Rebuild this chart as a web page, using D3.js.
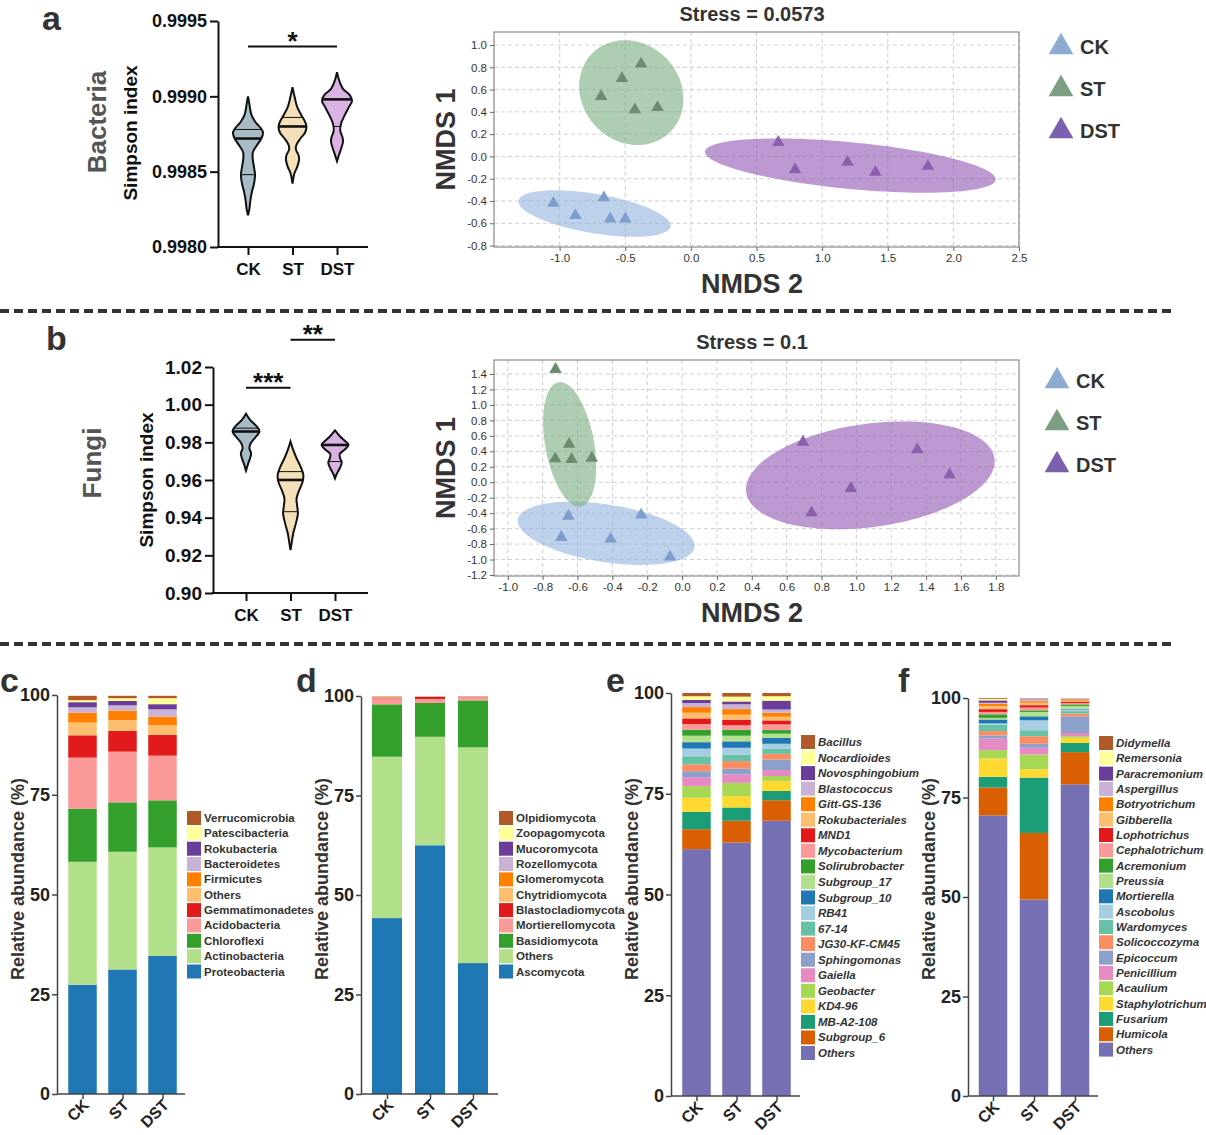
<!DOCTYPE html>
<html>
<head>
<meta charset="utf-8">
<script src="https://cdn.jsdelivr.net/npm/d3@7"></script>
<style>
  body { margin: 0; background: #fff; }
  text { font-family: 'Liberation Sans', Arial, sans-serif; }
</style>
</head>
<body>
<svg id="chart" width="1206" height="1135"></svg>
<script>
const svg = d3.select('#chart')

const groups = ['CK', 'ST', 'DST']

// ---- violin outlines: [Simpson index, relative half width] ----
const bactViolinCK = [[0.99900,0],[0.99895,0.09],[0.99888,0.22],[0.99883,0.49],[0.99879,0.84],[0.99876,1],[0.99872,0.89],[0.99867,0.56],[0.99863,0.33],[0.99859,0.31],[0.99853,0.40],[0.99848,0.47],[0.99842,0.40],[0.99837,0.27],[0.99831,0.16],[0.99825,0.09],[0.99821,0]]
const bactViolinST = [[0.99906,0],[0.99900,0.13],[0.99893,0.31],[0.99887,0.62],[0.99883,0.84],[0.99880,0.93],[0.99876,0.84],[0.99872,0.53],[0.99868,0.27],[0.99865,0.22],[0.99861,0.40],[0.99858,0.44],[0.99853,0.31],[0.99849,0.13],[0.99842,0]]
const bactViolinDST = [[0.99916,0],[0.99911,0.13],[0.99905,0.40],[0.99901,0.84],[0.99897,1],[0.99893,0.80],[0.99887,0.49],[0.99882,0.27],[0.99877,0.22],[0.99873,0.36],[0.99870,0.40],[0.99865,0.27],[0.99861,0.13],[0.99857,0]]
const bactMedian = [0.99872, 0.99880, 0.99898]
const bactQuartiles = [[0.99878, 0.99848], [0.99886], [0.99880]]
const bactTicks = [0.9980, 0.9985, 0.9990, 0.9995]

const fungiViolinCK = [[0.99516,0],[0.99196,0.30],[0.98841,0.80],[0.98575,1],[0.98309,0.75],[0.97954,0.35],[0.97688,0.25],[0.97422,0.38],[0.97156,0.30],[0.96801,0.13],[0.96499,0]]
const fungiViolinST = [[0.98043,0],[0.97599,0.2],[0.97156,0.45],[0.96712,0.75],[0.96269,0.95],[0.95914,0.9],[0.95470,0.65],[0.95026,0.45],[0.94583,0.5],[0.94228,0.55],[0.93696,0.4],[0.93163,0.2],[0.92631,0.08],[0.92276,0]]
const fungiViolinDST = [[0.9863,0],[0.9831,0.38],[0.9804,0.8],[0.97865,1],[0.97635,0.75],[0.97386,0.35],[0.97156,0.38],[0.96925,0.5],[0.96624,0.35],[0.96358,0.15],[0.96091,0]]
const fungiMedian = [0.98575, 0.96002, 0.9786]
const fungiQuartiles = [[0.98752], [0.96445, 0.94317], [0.9698]]
const fungiTicks = [0.90, 0.92, 0.94, 0.96, 0.98, 1.00, 1.02]

const violinColors = ['#a7bcc6', '#f3e0b9', '#dab2e4']

// ---- NMDS points [NMDS 2, NMDS 1] ----
const bactNmdsCK = [[-1.048,-0.42],[-0.88,-0.53],[-0.663,-0.37],[-0.615,-0.56],[-0.50,-0.56]]
const bactNmdsST = [[-0.379,0.83],[-0.525,0.70],[-0.684,0.54],[-0.427,0.42],[-0.254,0.44]]
const bactNmdsDST = [[0.666,0.127],[0.794,-0.118],[1.194,-0.052],[1.406,-0.142],[1.806,-0.088]]
// ellipse: centre x, centre y, semi-axis 1 (dx, dy), semi-axis 2 (dx, dy)
const bactEllipseCK = [-0.734, -0.513, 0.579, -0.119, -0.0352, -0.172]
const bactEllipseST = [-0.454, 0.573, -0.1475, 0.455, 0.369, 0.120]
const bactEllipseDST = [1.215, -0.082, 1.107, -0.127, -0.0236, -0.208]
const bactXTicks = [-1.0, -0.5, 0.0, 0.5, 1.0, 1.5, 2.0, 2.5]
const bactYTicks = [-0.8, -0.6, -0.4, -0.2, 0.0, 0.2, 0.4, 0.6, 0.8, 1.0]

const fungiNmdsCK = [[-0.652,-0.437],[-0.693,-0.713],[-0.41,-0.734],[-0.235,-0.424],[-0.069,-0.967]]
const fungiNmdsST = [[-0.726,1.46],[-0.648,0.494],[-0.728,0.305],[-0.634,0.296],[-0.518,0.313]]
const fungiNmdsDST = [[0.694,0.52],[1.349,0.421],[1.535,0.098],[0.968,-0.079],[0.743,-0.394]]
const fungiEllipseCK = [-0.435, -0.661, 0.506, -0.1876, -0.0365, -0.364]
const fungiEllipseST = [-0.645, 0.49, -0.0617, 0.804, 0.139, 0.0395]
const fungiEllipseDST = [1.08, 0.089, 0.711, 0.237, 0.0592, -0.656]
const fungiXTicks = [-1.0, -0.8, -0.6, -0.4, -0.2, 0.0, 0.2, 0.4, 0.6, 0.8, 1.0, 1.2, 1.4, 1.6, 1.8]
const fungiYTicks = [-1.2, -1.0, -0.8, -0.6, -0.4, -0.2, 0.0, 0.2, 0.4, 0.6, 0.8, 1.0, 1.2, 1.4]

const ellipseColors = ['#93b3dd', '#7aab7e', '#9055b2']
const pointColors = ['#7d9dcc', '#6a8d6d', '#8b5fae']
const legendColors = ['#8dabd1', '#7d9e80', '#7a60ae']

// ---- stacked bars (bottom to top) ----
const bactPhyla = ['Proteobacteria','Actinobacteria','Chloroflexi','Acidobacteria','Gemmatimonadetes','Others','Firmicutes','Bacteroidetes','Rokubacteria','Patescibacteria','Verrucomicrobia']
const bactPhylaCK = [27.4, 30.8, 13.3, 12.8, 5.6, 3.2, 2.5, 1.3, 1.3, 0.5, 1.1]
const bactPhylaST = [31.2, 29.5, 12.4, 12.7, 5.2, 2.7, 2.4, 1.3, 1.1, 0.7, 0.6]
const bactPhylaDST = [34.6, 27.2, 11.8, 11.2, 5.2, 2.4, 2.2, 1.8, 1.3, 1.5, 0.6]

const fungiPhyla = ['Ascomycota','Others','Basidiomycota','Mortierellomycota','Blastocladiomycota','Chytridiomycota','Glomeromycota','Rozellomycota','Mucoromycota','Zoopagomycota','Olpidiomycota']
const fungiPhylaCK = [44.2, 40.55, 13.15, 1.5, 0.1, 0.15, 0.1, 0.1, 0.05, 0.05, 0.05]
const fungiPhylaST = [62.5, 27.25, 8.5, 1.0, 0.5, 0.1, 0.05, 0.04, 0.03, 0.02, 0.01]
const fungiPhylaDST = [32.9, 54.2, 11.8, 0.7, 0.1, 0.1, 0.05, 0.05, 0.04, 0.03, 0.03]

const phylumColors = ['#1f78b4','#b2df8a','#33a02c','#fb9a99','#e31a1c','#fdbf6f','#ff7f00','#cab2d6','#6a3d9a','#ffff99','#b15928']

const bactGenera = ['Others','Subgroup_6','MB-A2-108','KD4-96','Geobacter','Gaiella','Sphingomonas','JG30-KF-CM45','67-14','RB41','Subgroup_10','Subgroup_17','Solirubrobacter','Mycobacterium','MND1','Rokubacteriales','Gitt-GS-136','Blastococcus','Novosphingobium','Nocardioides','Bacillus']
const bactGeneraCK = [61.25, 4.95, 4.3, 3.5, 2.9, 2.2, 1.5, 1.7, 2.0, 1.9, 1.6, 1.6, 1.5, 1.4, 1.4, 1.4, 1.4, 1.0, 0.8, 0.9, 0.8]
const bactGeneraST = [62.9, 5.4, 3.3, 2.8, 3.3, 2.1, 1.4, 1.9, 1.6, 1.7, 1.6, 1.4, 1.5, 1.1, 1.4, 1.2, 1.4, 1.2, 0.7, 1.2, 0.9]
const bactGeneraDST = [68.3, 5.1, 2.3, 2.5, 1.2, 1.5, 2.6, 1.4, 1.3, 1.2, 1.5, 1.0, 0.9, 1.4, 1.0, 0.9, 1.0, 0.8, 2.2, 1.1, 0.8]

const fungiGenera = ['Others','Humicola','Fusarium','Staphylotrichum','Acaulium','Penicillium','Epicoccum','Solicoccozyma','Wardomyces','Ascobolus','Mortierella','Preussia','Acremonium','Cephalotrichum','Lophotrichus','Gibberella','Botryotrichum','Aspergillus','Paracremonium','Remersonia','Didymella']
const fungiGeneraCK = [70.5, 7.0, 2.7, 4.6, 2.1, 2.9, 0.8, 1.1, 1.6, 0.3, 1.0, 0.4, 0.9, 0.6, 0.7, 0.8, 0.6, 0.2, 0.6, 0.4, 0.2]
const fungiGeneraST = [49.4, 16.7, 13.9, 2.1, 3.7, 1.7, 1.0, 1.9, 1.5, 2.5, 1.0, 1.1, 0.4, 0.7, 0.6, 0.6, 0.4, 0.5, 0.1, 0.1, 0.1]
const fungiGeneraDST = [78.3, 8.1, 2.3, 1.3, 0.4, 0.8, 4.2, 0.7, 0.6, 0.4, 0.2, 0.7, 0.4, 0.3, 0.4, 0.2, 0.2, 0.1, 0.1, 0.2, 0.1]

const genusColors = ['#7570b3','#d95f02','#1b9e77','#ffd92f','#a6d854','#e78ac3','#8da0cb','#fc8d62','#66c2a5','#a6cee3','#1f78b4','#b2df8a','#33a02c','#fb9a99','#e31a1c','#fdbf6f','#ff7f00','#cab2d6','#6a3d9a','#ffff99','#b15928']

const boldText = (sel, size, fill) => sel
  .style('font-size', size + 'px')
  .style('font-weight', 'bold')
  .style('font-family', "'Liberation Sans', Arial, sans-serif")
  .attr('fill', fill || '#111')

const panelLetter = (letter, x, y) => {
  svg.append('text').attr('x', x).attr('y', y).text(letter)
    .call(boldText, 34, '#333')
}

// width of an outline at a given value (straight-line between read points)
const widthAt = (outline, v) => {
  for (let k = 0; k < outline.length - 1; k++) {
    const [v0, w0] = outline[k]
    const [v1, w1] = outline[k + 1]
    if (v <= v0 && v >= v1) return w0 + (w1 - w0) * (v - v0) / (v1 - v0)
  }
  return 0
}

const drawViolins = (cfg) => {
  const g = svg.append('g')
  const y = d3.scaleLinear().domain(cfg.domain).range([cfg.bottom, cfg.top])
  const x = d3.scalePoint().domain(groups).range(cfg.xRange)
  const w = d3.scaleLinear().domain([0, 1]).range([0, cfg.halfWidth])

  cfg.outlines.forEach((outline, i) => {
    const cx = x(groups[i])
    const area = d3.area()
      .curve(d3.curveCatmullRom)
      .y(d => y(d[0]))
      .x0(d => cx - w(d[1]))
      .x1(d => cx + w(d[1]))
    g.append('path')
      .attr('d', area(outline))
      .attr('fill', violinColors[i])
      .attr('stroke', '#111')
      .attr('stroke-width', 2)
    const lines = [[cfg.medians[i], 2.6]].concat(cfg.quartiles[i].map(q => [q, 1]))
    lines.forEach(([v, sw]) => {
      const hw = w(widthAt(outline, v))
      g.append('line')
        .attr('x1', cx - hw).attr('x2', cx + hw)
        .attr('y1', y(v)).attr('y2', y(v))
        .attr('stroke', '#111').attr('stroke-width', sw)
    })
  })

  const yAxis = d3.axisLeft(y).tickValues(cfg.ticks).tickFormat(d3.format(cfg.fmt)).tickSize(8).tickSizeOuter(0)
  const ya = g.append('g').attr('transform', `translate(${cfg.axisX},0)`).call(yAxis)
  ya.selectAll('path, line').attr('stroke', '#111').attr('stroke-width', 2)
  ya.selectAll('text').call(boldText, cfg.tickSize).attr('x', -11)

  const xAxis = d3.axisBottom(x).tickSize(8).tickSizeOuter(0)
  const xa = g.append('g').attr('transform', `translate(0,${cfg.bottom})`).call(xAxis)
  xa.select('.domain').remove()
  xa.selectAll('line').attr('stroke', '#111').attr('stroke-width', 2)
  xa.selectAll('text').call(boldText, 17).attr('y', 16)
  g.append('line')
    .attr('x1', cfg.axisX - 1).attr('x2', cfg.xEnd)
    .attr('y1', cfg.bottom).attr('y2', cfg.bottom)
    .attr('stroke', '#111').attr('stroke-width', 2)

  cfg.sig.forEach(([a, b, v, label]) => {
    g.append('line')
      .attr('x1', x(groups[a])).attr('x2', x(groups[b]))
      .attr('y1', y(v)).attr('y2', y(v))
      .attr('stroke', '#111').attr('stroke-width', 2)
    g.append('text')
      .attr('x', (x(groups[a]) + x(groups[b])) / 2).attr('y', y(v) + 3)
      .attr('text-anchor', 'middle').text(label)
      .call(boldText, 26)
  })

  g.append('text')
    .attr('transform', `translate(${cfg.indexX},${cfg.labelY}) rotate(-90)`)
    .attr('text-anchor', 'middle').text('Simpson index')
    .call(boldText, 19)
  g.append('text')
    .attr('transform', `translate(${cfg.groupX},${cfg.groupY}) rotate(-90)`)
    .attr('text-anchor', 'middle').text(cfg.name)
    .call(boldText, 26, '#555')
}

const nmdsLeft = 494
const nmdsRight = 1019

const drawNmds = (cfg) => {
  const g = svg.append('g')
  const x = d3.scaleLinear().domain(cfg.xDomain).range([nmdsLeft, nmdsRight])
  const y = d3.scaleLinear().domain(cfg.yDomain).range([cfg.bottom, cfg.top])

  g.selectAll('line.gx').data(cfg.xTicks).enter().append('line')
    .attr('x1', d => x(d)).attr('x2', d => x(d))
    .attr('y1', cfg.top).attr('y2', cfg.bottom)
    .attr('stroke', '#cfcfcf').attr('stroke-dasharray', '4,3')
  g.selectAll('line.gy').data(cfg.yTicks).enter().append('line')
    .attr('x1', nmdsLeft).attr('x2', nmdsRight)
    .attr('y1', d => y(d)).attr('y2', d => y(d))
    .attr('stroke', '#cfcfcf').attr('stroke-dasharray', '4,3')

  const outline = d3.line().curve(d3.curveLinearClosed)
  cfg.ellipses.forEach((e, i) => {
    const pts = d3.range(0, 360, 3).map(t => {
      const r = t * Math.PI / 180
      return [x(e[0] + e[2] * Math.cos(r) + e[4] * Math.sin(r)),
              y(e[1] + e[3] * Math.cos(r) + e[5] * Math.sin(r))]
    })
    g.append('path').attr('d', outline(pts))
      .attr('fill', ellipseColors[i]).attr('fill-opacity', 0.6)
  })

  const tri = d3.symbol().type(d3.symbolTriangle).size(68)
  cfg.points.forEach((pts, i) => {
    g.selectAll(null).data(pts).enter().append('path')
      .attr('d', tri)
      .attr('transform', d => `translate(${x(d[0])},${y(d[1])})`)
      .attr('fill', pointColors[i])
  })

  g.append('rect')
    .attr('x', nmdsLeft).attr('y', cfg.top)
    .attr('width', nmdsRight - nmdsLeft).attr('height', cfg.bottom - cfg.top)
    .attr('fill', 'none').attr('stroke', '#8a8a8a').attr('stroke-width', 1.2)

  const fmt = d => d.toFixed(1)
  const ya = g.append('g').attr('transform', `translate(${nmdsLeft},0)`)
    .call(d3.axisLeft(y).tickValues(cfg.yTicks).tickFormat(fmt).tickSize(4).tickSizeOuter(0))
  const xa = g.append('g').attr('transform', `translate(0,${cfg.bottom})`)
    .call(d3.axisBottom(x).tickValues(cfg.xTicks).tickFormat(fmt).tickSize(4).tickSizeOuter(0))
  ;[ya, xa].forEach(a => {
    a.select('.domain').remove()
    a.selectAll('line').attr('stroke', '#666')
    a.selectAll('text').style('font-size', '11.5px').attr('fill', '#333')
  })

  g.append('text').attr('x', 752).attr('y', cfg.top - 11)
    .attr('text-anchor', 'middle').text(cfg.title)
    .call(boldText, 20, '#333')
  g.append('text')
    .attr('transform', `translate(455,${(cfg.top + cfg.bottom) / 2}) rotate(-90)`)
    .attr('text-anchor', 'middle').text('NMDS 1')
    .call(boldText, 27, '#333')
  g.append('text').attr('x', 752).attr('y', cfg.bottom + 46)
    .attr('text-anchor', 'middle').text('NMDS 2')
    .call(boldText, 27, '#333')

  const big = d3.symbol().type(d3.symbolTriangle).size(265)
  groups.forEach((name, i) => {
    const cy = cfg.legendY + i * 42
    g.append('path').attr('d', big)
      .attr('transform', `translate(${cfg.legendX},${cy})`)
      .attr('fill', legendColors[i])
    g.append('text').attr('x', cfg.legendX + 19).attr('y', cy + 7)
      .text(name).call(boldText, 20, '#333')
  })
}

const drawBars = (cfg) => {
  const g = svg.append('g')
  const y = d3.scaleLinear().domain([0, 100]).range([cfg.bottom, cfg.top])
  const x = d3.scalePoint().domain(groups).range(cfg.xRange)
  const rows = groups.map((name, i) => {
    const row = { group: name }
    cfg.taxa.forEach((t, j) => { row[t] = cfg.values[i][j] })
    return row
  })
  const series = d3.stack().keys(cfg.taxa)(rows)

  g.selectAll('g.layer').data(series).enter().append('g')
    .attr('fill', (d, j) => cfg.colors[j])
    .selectAll('rect').data(d => d).enter().append('rect')
    .attr('x', d => x(d.data.group) - cfg.barWidth / 2)
    .attr('width', cfg.barWidth)
    .attr('y', d => y(d[1]))
    .attr('height', d => y(d[0]) - y(d[1]))

  const ya = g.append('g').attr('transform', `translate(${cfg.axisX},0)`)
    .call(d3.axisLeft(y).tickValues([0, 25, 50, 75, 100]).tickSize(5).tickSizeOuter(0))
  ya.selectAll('path, line').attr('stroke', '#444').attr('stroke-width', 1.5)
  ya.selectAll('text').call(boldText, 18, '#222').attr('x', -7)

  const xa = g.append('g').attr('transform', `translate(0,${cfg.bottom})`)
    .call(d3.axisBottom(x).tickSize(5).tickSizeOuter(0))
  xa.select('.domain').remove()
  xa.selectAll('line').attr('stroke', '#444').attr('stroke-width', 1.5)
  xa.selectAll('text')
    .attr('y', 0).attr('dy', 0)
    .attr('transform', 'translate(7,12) rotate(-45)')
    .attr('text-anchor', 'end')
    .call(boldText, 16, '#222')
  g.append('line')
    .attr('x1', cfg.axisX).attr('x2', cfg.xEnd)
    .attr('y1', cfg.bottom).attr('y2', cfg.bottom)
    .attr('stroke', '#444').attr('stroke-width', 1.5)

  g.append('text')
    .attr('transform', `translate(${cfg.labelX},879) rotate(-90)`)
    .attr('text-anchor', 'middle').text('Relative abundance (%)')
    .call(boldText, 18, '#333')

  const legendTaxa = cfg.taxa.slice().reverse()
  legendTaxa.forEach((t, k) => {
    const cy = cfg.legendY + k * cfg.legendStep
    g.append('rect')
      .attr('x', cfg.legendX).attr('y', cy - 7)
      .attr('width', 14).attr('height', 14)
      .attr('fill', cfg.colors[cfg.taxa.length - 1 - k])
    g.append('text')
      .attr('x', cfg.legendX + 17).attr('y', cy + 4)
      .text(t).call(boldText, 11.5, '#333')
      .style('font-style', cfg.italic ? 'italic' : 'normal')
  })
}

// ---- panel a ----
panelLetter('a', 42, 30)
drawViolins({
  name: 'Bacteria', domain: [0.9980, 0.9995], top: 21, bottom: 247,
  axisX: 218, xEnd: 368, xRange: [248, 337], halfWidth: 15,
  outlines: [bactViolinCK, bactViolinST, bactViolinDST],
  medians: bactMedian, quartiles: bactQuartiles,
  ticks: bactTicks, fmt: '.4f', tickSize: 18,
  sig: [[0, 2, 0.99933, '*']],
  indexX: 137, groupX: 106, labelY: 133, groupY: 122
})
drawNmds({
  title: 'Stress = 0.0573', xDomain: [-1.5, 2.5], yDomain: [-0.813, 1.117],
  top: 32, bottom: 247, xTicks: bactXTicks, yTicks: bactYTicks,
  ellipses: [bactEllipseCK, bactEllipseST, bactEllipseDST],
  points: [bactNmdsCK, bactNmdsST, bactNmdsDST],
  legendX: 1061, legendY: 47
})

// ---- panel b ----
panelLetter('b', 46, 350)
drawViolins({
  name: 'Fungi', domain: [0.90, 1.02], top: 367, bottom: 593,
  axisX: 213, xEnd: 368, xRange: [246, 335], halfWidth: 13.5,
  outlines: [fungiViolinCK, fungiViolinST, fungiViolinDST],
  medians: fungiMedian, quartiles: fungiQuartiles,
  ticks: fungiTicks, fmt: '.2f', tickSize: 19,
  sig: [[0, 1, 1.009, '***'], [1, 2, 1.0345, '**']],
  indexX: 153, groupX: 101, labelY: 480, groupY: 463
})
drawNmds({
  title: 'Stress = 0.1', xDomain: [-1.079, 1.933], yDomain: [-1.213, 1.581],
  top: 360, bottom: 576, xTicks: fungiXTicks, yTicks: fungiYTicks,
  ellipses: [fungiEllipseCK, fungiEllipseST, fungiEllipseDST],
  points: [fungiNmdsCK, fungiNmdsST, fungiNmdsDST],
  legendX: 1057, legendY: 381
})

// ---- separators ----
;[311, 644].forEach(yy => {
  svg.append('line').attr('x1', 0).attr('x2', 1176).attr('y1', yy).attr('y2', yy)
    .attr('stroke', '#333').attr('stroke-width', 4).attr('stroke-dasharray', '9,5')
})

// ---- panels c-f ----
panelLetter('c', 0, 692)
drawBars({
  taxa: bactPhyla, values: [bactPhylaCK, bactPhylaST, bactPhylaDST], colors: phylumColors,
  xRange: [82.5, 162.5], barWidth: 28.5, top: 695, bottom: 1094, axisX: 57, xEnd: 185,
  legendX: 187, legendY: 818, legendStep: 15.35, labelX: 24, italic: false
})
panelLetter('d', 296, 692)
drawBars({
  taxa: fungiPhyla, values: [fungiPhylaCK, fungiPhylaST, fungiPhylaDST], colors: phylumColors,
  xRange: [387, 473], barWidth: 30, top: 696, bottom: 1094, axisX: 361, xEnd: 498,
  legendX: 499, legendY: 818, legendStep: 15.35, labelX: 328, italic: false
})
panelLetter('e', 606, 692)
drawBars({
  taxa: bactGenera, values: [bactGeneraCK, bactGeneraST, bactGeneraDST], colors: genusColors,
  xRange: [696.5, 776.5], barWidth: 28.5, top: 693, bottom: 1096, axisX: 671, xEnd: 800,
  legendX: 801, legendY: 742, legendStep: 15.55, labelX: 638, italic: true
})
panelLetter('f', 898, 692)
drawBars({
  taxa: fungiGenera, values: [fungiGeneraCK, fungiGeneraST, fungiGeneraDST], colors: genusColors,
  xRange: [993, 1075], barWidth: 28.5, top: 698, bottom: 1096, axisX: 968, xEnd: 1098,
  legendX: 1099, legendY: 743, legendStep: 15.33, labelX: 935, italic: true
})
</script>
</body>
</html>
